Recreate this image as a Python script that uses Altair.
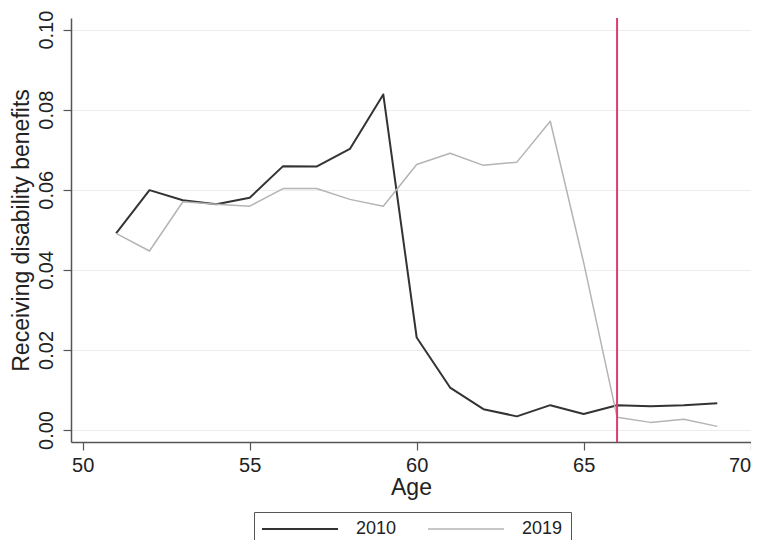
import altair as alt
import pandas as pd

ages = list(range(51, 70))
y2010 = [0.0491, 0.0599, 0.0574, 0.0564, 0.0580, 0.0659, 0.0658, 0.0702, 0.0838,
         0.0231, 0.0106, 0.0052, 0.0034, 0.0062, 0.0040, 0.0062, 0.0059, 0.0062, 0.0067]
y2019 = [0.0491, 0.0447, 0.0570, 0.0564, 0.0559, 0.0603, 0.0603, 0.0576, 0.0559,
         0.0663, 0.0691, 0.0661, 0.0669, 0.0771, 0.0418, 0.0032, 0.0019, 0.0027, 0.0009]
years = ["2010", "2019"]
colors = ["#333333", "#b4b4b4"]
cutoff_age = [66]
x_ticks = [50, 55, 60, 65, 70]
y_ticks = [0.0, 0.02, 0.04, 0.06, 0.08, 0.10]

df = pd.DataFrame({
    "Age": ages * 2,
    "value": y2010 + y2019,
    "year": ["2010"] * len(ages) + ["2019"] * len(ages),
})
df_cut = pd.DataFrame({"Age": cutoff_age})

FONT = "Liberation Sans"

x_scale = alt.Scale(domain=[49.65, 70.01], nice=False, zero=False)
y_scale = alt.Scale(domain=[-0.003, 0.1029], nice=False, zero=False)

lines = alt.Chart(df).mark_line(strokeJoin="round").encode(
    x=alt.X("Age:Q", scale=x_scale,
            axis=alt.Axis(values=x_ticks, title="Age", grid=False, format="d",
                          tickSize=8, labelPadding=5, titlePadding=1,
                          labelFontSize=20, titleFontSize=23, labelFlush=False,
                          labelOverlap=False,
                          labelAlign={"condition": {"test": "datum.value >= 70", "value": "right"},
                                      "value": "center"})),
    y=alt.Y("value:Q", scale=y_scale,
            axis=alt.Axis(values=y_ticks, format=".2f", title="Receiving disability benefits",
                          grid=True, gridColor="#ececec", gridWidth=1,
                          tickSize=8, labelPadding=7, labelAngle=270,
                          labelAlign="center", labelBaseline="bottom",
                          titlePadding=3, labelFontSize=20, titleFontSize=23)),
    color=alt.Color("year:N", scale=alt.Scale(domain=years, range=colors),
                    legend=alt.Legend(title=None, orient="none", direction="horizontal",
                                      legendX=183, legendY=494,
                                      symbolType="M-38,0H38", symbolSize=4,
                                      symbolStrokeWidth=2, symbolOffset=29,
                                      labelOffset=47, columnPadding=28,
                                      labelFontSize=18, padding=8,
                                      strokeColor="#555555", fillColor="white")),
    strokeWidth=alt.StrokeWidth("year:N", scale=alt.Scale(domain=years, range=[2, 1.5]),
                                legend=None),
)

cut = alt.Chart(df_cut).mark_rule(color="#dc3c74", strokeWidth=2).encode(
    x=alt.X("Age:Q", scale=x_scale)
)

chart = alt.layer(lines, cut).properties(
    width=680, height=424,
    padding={"left": 63, "top": 10, "right": 0, "bottom": 98},
    autosize=alt.AutoSizeParams(type="none"),
    background="white",
).configure_view(stroke=None).configure_axis(
    labelFont=FONT, titleFont=FONT, labelColor="#222222", titleColor="#222222",
    titleFontWeight="normal", domainColor="#555555", tickColor="#555555",
    domainWidth=1.5, tickWidth=1.2,
).configure_legend(labelFont=FONT, labelColor="#222222")

chart.save("out.html", embed_options={"renderer": "svg", "actions": False})
